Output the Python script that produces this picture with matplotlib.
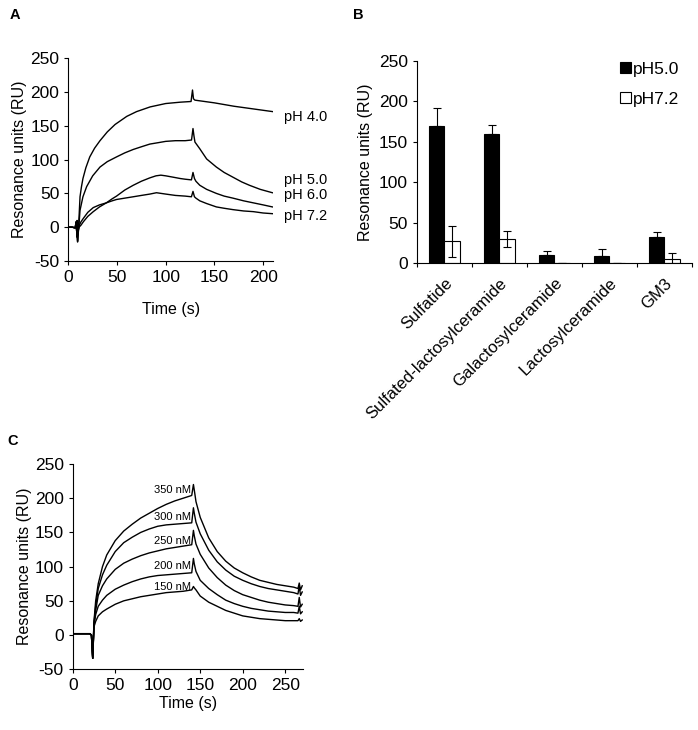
import matplotlib
matplotlib.use("Agg")
import matplotlib.pyplot as plt
import numpy as np

plt.rcParams["font.family"] = ["Liberation Sans", "DejaVu Sans"]
plt.rcParams["font.size"] = 11.5
plt.rcParams["axes.unicode_minus"] = False

# panel A: sensorgrams at different pH
t_ph40 = [0, 4, 7, 8, 8.5, 9, 9.5, 10, 11, 12, 13.5, 15, 18, 22, 27, 32.5, 40, 48, 60, 70, 84, 100, 115, 126, 127.5, 128.5, 130, 135, 150, 170, 190, 210]
ru_ph40 = [0, 0, -1, 8, -5, 10, -20, -10, 15, 45, 60, 72, 88, 104, 117, 128, 141, 152, 164, 171, 178, 183, 185, 186, 203, 190, 188, 187, 184, 179, 175, 171]
t_ph50 = [0, 4, 7, 8, 9, 9.5, 10, 11, 12, 13.5, 15, 18.8, 25, 32.5, 40, 49.5, 58, 66.6, 75, 83.7, 92, 100, 110, 120, 126.5, 128, 129, 130, 135, 142, 152, 160, 169, 178, 186, 197, 209.5]
ru_ph50 = [0, 0, -1, 8, -15, -22, -12, 5, 25, 35, 45, 60, 76, 89, 97, 104, 110, 115, 119, 123, 125, 127, 128, 128, 129, 146, 135, 126, 116, 101, 89, 81, 74, 67, 62, 56, 51]
t_ph60 = [0, 4, 7, 8, 9, 10, 11, 13, 15.4, 20, 25.6, 32, 39, 45, 49.5, 58, 66.6, 75, 83.7, 90, 95, 100, 107.6, 115, 120, 126.4, 128, 129.5, 131, 135, 142, 152, 160, 169, 180, 190, 200, 209.5]
ru_ph60 = [0, 0, -1, 6, -12, -5, 0, 3, 8, 16, 23, 30, 36, 42, 46, 55, 62, 68, 73, 76, 77, 76, 74, 72, 71, 70, 81, 72, 68, 62, 56, 50, 46, 43, 39, 36, 33, 30]
t_ph72 = [0, 4, 7, 8, 9, 10, 11, 13, 15.4, 20, 25.6, 32, 39, 45, 49.5, 58, 66.6, 75, 83.7, 90.5, 100, 110, 120, 126.4, 128, 129.5, 131, 135, 142, 152, 160, 169, 180, 190, 200, 209.5]
ru_ph72 = [0, 0, -1, 5, -15, -8, 2, 8, 13, 22, 29, 33, 36, 39, 41, 43, 45, 47, 49, 51, 49, 47, 46, 45, 53, 45, 43, 39, 35, 30, 28, 26, 24, 23, 21, 20]
ph_labels = ["pH 4.0", "pH 5.0", "pH 6.0", "pH 7.2"]
ph_label_y = [163, 70, 47, 17]

# panel B: binding to glycolipids
lipids = ["Sulfatide", "Sulfated-lactosylceramide", "Galactosylceramide", "Lactosylceramide", "GM3"]
ph50_vals = [170, 160, 10, 9, 32]
ph50_err = [22, 11, 5, 8, 7]
ph72_vals = [27, 30, 0.5, 0.5, 5]
ph72_err = [19, 10, 0, 0, 7]

# panel C: concentration series
conc_labels = ["350 nM", "300 nM", "250 nM", "200 nM", "150 nM"]
conc_label_y = [212, 172, 138, 101, 70]
t_c = [0, 10, 20, 22, 23.5, 25, 27, 30, 35, 40, 50, 60, 70, 80, 90, 100, 110, 120, 130, 140, 142, 143, 145, 150, 160, 170, 180, 190, 200, 210, 220, 230, 240, 250, 260, 265, 266.5, 268, 270]
ru_350 = [2, 2, 2, 0, -34, 20, 50, 75, 100, 117, 138, 152, 162, 171, 178, 185, 191, 196, 200, 204, 220, 212, 195, 172, 142, 122, 108, 98, 91, 85, 80, 77, 74, 72, 70, 68, 76, 66, 72]
ru_300 = [2, 2, 2, 0, -34, 18, 42, 68, 88, 102, 122, 135, 143, 150, 155, 159, 161, 162, 163, 164, 186, 178, 165, 148, 124, 107, 95, 86, 80, 75, 71, 68, 66, 64, 62, 60, 72, 58, 63]
ru_250 = [2, 2, 2, 0, -34, 16, 36, 58, 72, 82, 96, 105, 111, 116, 120, 123, 126, 128, 130, 132, 153, 145, 133, 118, 98, 84, 73, 65, 59, 55, 51, 48, 46, 44, 43, 42, 55, 41, 45]
ru_200 = [2, 2, 2, 0, -34, 14, 30, 42, 51, 58, 67, 73, 78, 82, 85, 87, 88, 89, 90, 91, 112, 104, 93, 80, 68, 59, 51, 46, 42, 39, 37, 35, 34, 33, 33, 32, 42, 31, 34]
ru_150 = [2, 2, 2, 0, -34, 12, 20, 28, 34, 38, 45, 50, 53, 56, 58, 60, 62, 63, 64, 66, 71, 69, 66, 57, 48, 42, 36, 32, 28, 26, 24, 23, 22, 21, 21, 21, 24, 20, 22]

fig = plt.figure(figsize=(6.98, 7.30), dpi=100)


def style_axes(ax):
    ax.spines["top"].set_visible(False)
    ax.spines["right"].set_visible(False)
    for s in ["left", "bottom"]:
        ax.spines[s].set_linewidth(0.8)
    ax.tick_params(direction="out", length=3, width=0.8, labelsize=12.5)


# A
axa = fig.add_axes([0.0979, 0.6425, 0.293, 0.2777])
for t, ru in [(t_ph40, ru_ph40), (t_ph50, ru_ph50), (t_ph60, ru_ph60), (t_ph72, ru_ph72)]:
    axa.plot(t, ru, color="black", lw=1.0)
for lab, y in zip(ph_labels, ph_label_y):
    axa.text(221, y, lab, va="center", ha="left", fontsize=10.5, clip_on=False)
axa.set_xlim(0, 210)
axa.set_ylim(-50, 250)
axa.set_xticks([0, 50, 100, 150, 200])
axa.set_yticks(np.arange(-50, 251, 50))
axa.set_xlabel("Time (s)", labelpad=12)
axa.set_ylabel("Resonance units (RU)", labelpad=2)
style_axes(axa)

# B
axb = fig.add_axes([0.5974, 0.6397, 0.394, 0.2767])
x = np.arange(len(lipids))
w = 0.285
axb.bar(x - w / 2, ph50_vals, w, color="black", edgecolor="black", lw=0.8, label="pH5.0",
        yerr=[np.zeros(len(ph50_err)), ph50_err], capsize=3, error_kw=dict(lw=0.8, capthick=0.8))
axb.bar(x + w / 2, ph72_vals, w, color="white", edgecolor="black", lw=0.8, label="pH7.2",
        yerr=[ph72_err, ph72_err], capsize=3, error_kw=dict(lw=0.8, capthick=0.8))
axb.set_xlim(-0.5, len(lipids) - 0.5)
axb.set_ylim(0, 250)
axb.set_yticks(np.arange(0, 251, 50))
axb.set_xticks(np.arange(-0.5, len(lipids)), minor=False)
axb.set_xticklabels([])
axb.set_xticks(x, minor=True)
axb.set_xticklabels(lipids, minor=True, rotation=45, ha="right", rotation_mode="anchor", fontsize=12)
axb.set_ylabel("Resonance units (RU)", labelpad=4)
style_axes(axb)
axb.tick_params(axis="x", which="minor", length=0, pad=9)
axb.legend(loc="upper right", frameon=False, handlelength=0.6, handleheight=0.6,
           handletextpad=0.15, labelspacing=0.85, fontsize=12.5, borderaxespad=0.0,
           bbox_to_anchor=(0.98, 1.03))

# C
axc = fig.add_axes([0.1042, 0.0832, 0.33, 0.2812])
for ru in [ru_350, ru_300, ru_250, ru_200, ru_150]:
    axc.plot(t_c, ru, color="black", lw=1.0)
for lab, y in zip(conc_labels, conc_label_y):
    axc.text(139, y, lab, va="center", ha="right", fontsize=8)
axc.set_xlim(0, 271)
axc.set_ylim(-50, 250)
axc.set_xticks([0, 50, 100, 150, 200, 250])
axc.set_yticks(np.arange(-50, 251, 50))
axc.set_xlabel("Time (s)", labelpad=2)
axc.set_ylabel("Resonance units (RU)", labelpad=2)
style_axes(axc)

fig.text(10 / 698, 1 - 15 / 730, "A", fontweight="bold", fontsize=10.5, va="center")
fig.text(353 / 698, 1 - 15 / 730, "B", fontweight="bold", fontsize=10.5, va="center")
fig.text(7 / 698, 1 - 441 / 730, "C", fontweight="bold", fontsize=10.5, va="center")

plt.savefig("out.png", dpi=100)
